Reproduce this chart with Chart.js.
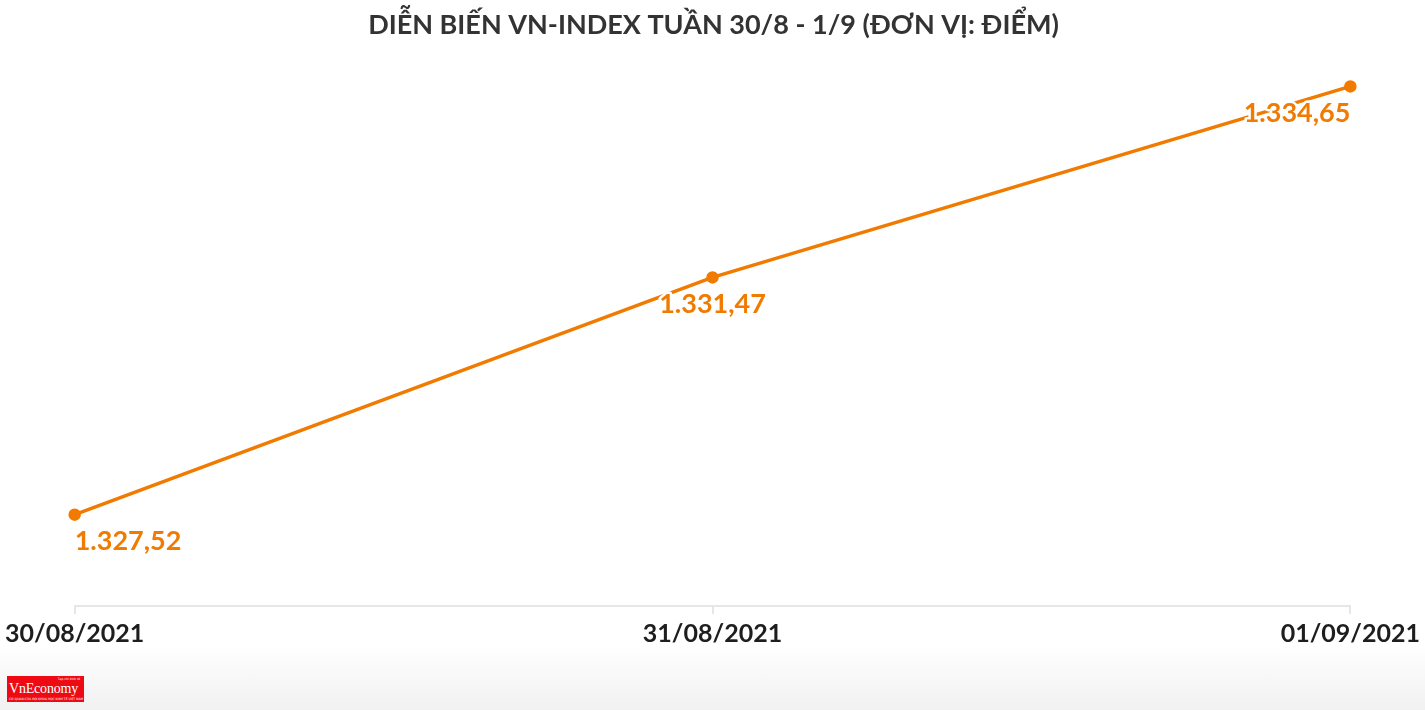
<!DOCTYPE html>
<html>
<head>
<meta charset="utf-8">
<script src="https://cdn.jsdelivr.net/npm/chart.js@4/dist/chart.umd.min.js"></script>
<style>
  html, body { margin:0; padding:0; }
  body { width:1425px; height:710px; overflow:hidden; position:relative;
         background:linear-gradient(to bottom, #fff 0, #fff 645px, #f1f1f1 710px); }
  #wrap { position:absolute; left:0; top:0; width:1425px; height:710px; }
  .logo { position:absolute; left:7px; top:676px; width:77px; height:26px; background:#ee0a12;
          color:#fff; font-family:"Liberation Serif", "DejaVu Serif", serif; overflow:hidden; }
  .logo .name { position:absolute; left:2px; top:5px; font-size:14px; letter-spacing:-0.2px; }
  .logo .tag { position:absolute; right:4px; top:1px; font-size:3px; font-family:"DejaVu Sans"; }
  .logo .sub { position:absolute; left:2px; top:21px; font-size:3px; font-family:"DejaVu Sans"; }
</style>
</head>
<body>
<div id="wrap"><canvas id="chart"></canvas></div>
<div class="logo"><span class="tag">Tạp chí kinh tế</span><span class="name">VnEconomy</span><span class="sub">CƠ QUAN CỦA HỘI KHOA HỌC KINH TẾ VIỆT NAM</span></div>
<script>
// --- data ---
const dates = ['30/08/2021', '31/08/2021', '01/09/2021'];
const vnIndex = [1327.52, 1331.47, 1334.65];
const chartTitle = 'DIỄN BIẾN VN-INDEX TUẦN 30/8 - 1/9 (ĐƠN VỊ: ĐIỂM)';

const ORANGE = '#f07b00';
const FONT = 'Lato';

// 1327.52 -> "1.327,52"
function fmtVN(v) {
  const parts = v.toFixed(2).split('.');
  return parts[0].replace(/\B(?=(\d{3})+(?!\d))/g, '.') + ',' + parts[1];
}

// nhãn giá trị dưới mỗi điểm (đầu: trái, giữa: giữa, cuối: phải)
const valueLabels = {
  id: 'valueLabels',
  afterDatasetsDraw(chart) {
    const ctx = chart.ctx;
    const meta = chart.getDatasetMeta(0);
    ctx.save();
    ctx.font = 'bold 27px ' + FONT;
    ctx.textBaseline = 'middle';
    ctx.lineJoin = 'round';
    meta.data.forEach((pt, i) => {
      const last = meta.data.length - 1;
      ctx.textAlign = i === 0 ? 'left' : (i === last ? 'right' : 'center');
      const txt = fmtVN(vnIndex[i]);
      const y = pt.y + 27;
      ctx.strokeStyle = '#fff';
      ctx.lineWidth = 5;
      ctx.strokeText(txt, pt.x, y);
      ctx.fillStyle = ORANGE;
      ctx.fillText(txt, pt.x, y);
    });
    ctx.restore();
  }
};

new Chart(document.getElementById('chart'), {
  type: 'line',
  data: {
    labels: dates,
    datasets: [{
      data: vnIndex,
      borderColor: ORANGE,
      backgroundColor: ORANGE,
      borderWidth: 3.5,
      pointRadius: 4.5,
      pointHoverRadius: 4.5,
      tension: 0
    }]
  },
  options: {
    responsive: true,
    maintainAspectRatio: false,
    animation: false,
    layout: { padding: { left: 74, right: 72, top: 0, bottom: 56 } },
    plugins: {
      legend: { display: false },
      tooltip: { enabled: false },
      title: {
        display: true,
        text: chartTitle,
        color: '#333',
        font: { family: FONT, size: 27, weight: 'bold' },
        padding: { top: 9, bottom: 24 }
      }
    },
    scales: {
      x: {
        offset: false,
        grid: { drawOnChartArea: false, drawTicks: true, tickLength: 8, color: '#e6e6e6', lineWidth: 2 },
        border: { display: true, color: '#e6e6e6', width: 2 },
        ticks: { color: '#1e1e1e', font: { family: FONT, size: 25, weight: 'bold' }, padding: 5, maxRotation: 0, autoSkip: false }
      },
      y: {
        display: false,
        min: 1326,
        max: 1335
      }
    }
  },
  plugins: [valueLabels]
});
</script>
</body>
</html>
